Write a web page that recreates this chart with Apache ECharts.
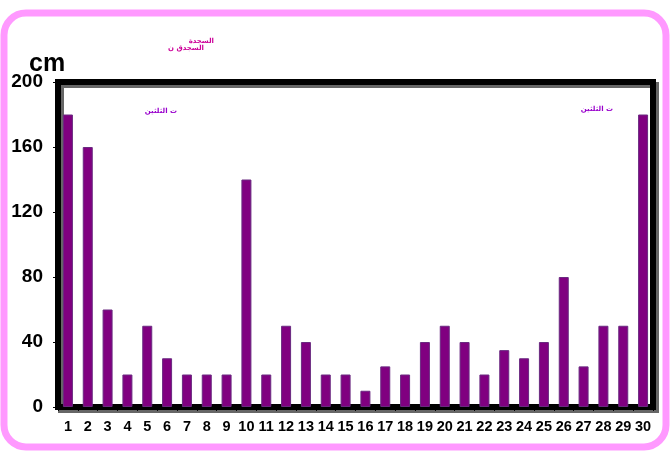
<!DOCTYPE html>
<html><head><meta charset="utf-8">
<script src="https://cdn.jsdelivr.net/npm/echarts@6/dist/echarts.min.js"></script>
<style>html,body{margin:0;padding:0;background:#fff}#c{width:670px;height:454px}</style>
</head><body><div id="c"></div>
<script>
const categories = ['1','2','3','4','5','6','7','8','9','10','11','12','13','14','15','16','17','18','19','20','21','22','23','24','25','26','27','28','29','30'];
const values = [180,160,60,20,50,30,20,20,20,140,20,50,40,20,20,10,25,20,40,50,40,20,35,30,40,80,25,50,50,180];
const yTicks = [0,40,80,120,160,200];
const unitLabel = 'cm';
const notes = ['السجدة','السجدق ن','ت الثلثين','ت الثلثين'];

const chart = echarts.init(document.getElementById('c'));
chart.setOption({
  animation: false,
  grid: {left: 58, right: 17, top: 82, bottom: 47, show: true, borderColor: '#000', borderWidth: 6,
         shadowColor: 'rgba(0,0,0,0.6)', shadowOffsetX: 3, shadowOffsetY: 3, shadowBlur: 0, backgroundColor: 'transparent'},
  xAxis: {type: 'category', data: categories,
    axisLine: {show: true, lineStyle: {color: '#000', width: 6}},
    axisTick: {show: true, interval: 0, length: 4, lineStyle: {color: '#000'}},
    axisLabel: {interval: 0, color: '#000', fontFamily: 'Liberation Sans', fontWeight: 'bold', fontSize: 14.5, margin: 12}},
  yAxis: {type: 'value', min: 0, max: 200, interval: 40,
    axisLine: {show: true, lineStyle: {color: '#000', width: 6}},
    axisTick: {show: true, length: 5, lineStyle: {color: '#000'}},
    splitLine: {show: false},
    axisLabel: {color: '#000', fontFamily: 'Liberation Sans', fontWeight: 'bold', fontSize: 19, margin: 15,
      formatter: v => yTicks.includes(v) ? String(v) : ''}},
  series: [{type: 'bar', data: values, barWidth: 10,
    itemStyle: {color: '#800080', borderColor: '#6a2a80', borderWidth: 1}}],
  graphic: [
    {type: 'rect', shape: {x: 4, y: 13, width: 662, height: 434, r: 22}, style: {fill: 'none', stroke: '#FF99FF', lineWidth: 7}, z: 100},
    {type: 'text', left: 29, top: 52, style: {text: unitLabel, fill: '#000', font: 'bold 25px "Liberation Sans"'}, z: 101},
    {type: 'text', x: 214, y: 38, style: {text: notes[0], fill: '#CC0099', font: 'bold 7px "DejaVu Sans"', align: 'right'}, z: 101},
    {type: 'text', x: 204, y: 45, style: {text: notes[1], fill: '#CC0099', font: 'bold 7px "DejaVu Sans"', align: 'right'}, z: 101},
    {type: 'text', x: 177, y: 108, style: {text: notes[2], fill: '#9900CC', font: 'bold 7px "DejaVu Sans"', align: 'right'}, z: 101},
    {type: 'text', x: 613, y: 106, style: {text: notes[3], fill: '#9900CC', font: 'bold 7px "DejaVu Sans"', align: 'right'}, z: 101}
  ]
});
</script></body></html>
